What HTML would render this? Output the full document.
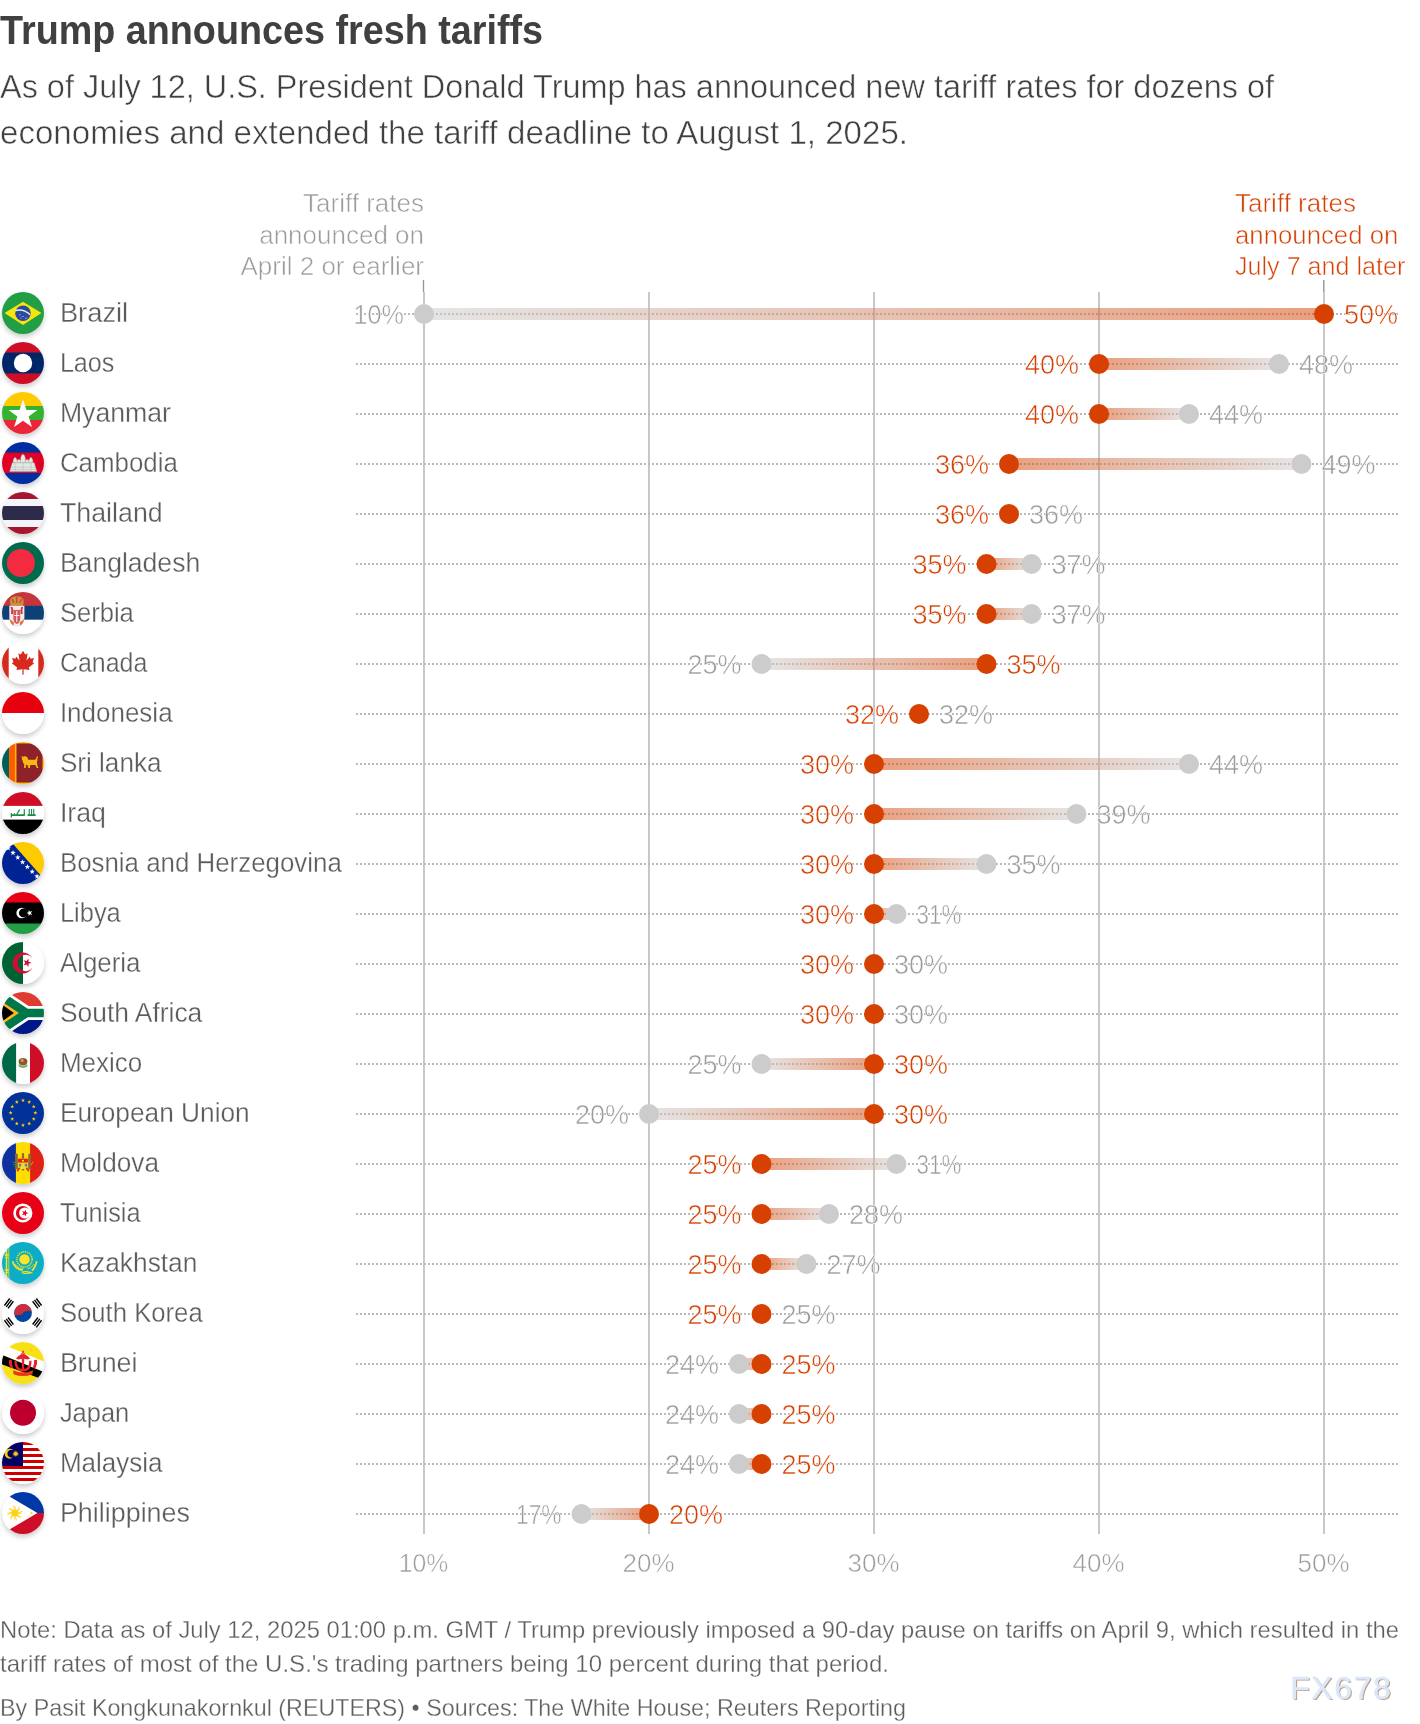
<!DOCTYPE html><html><head><meta charset="utf-8"><style>html,body{margin:0;padding:0;background:#fff;}svg{display:block;will-change:transform;}text{font-family:"Liberation Sans",sans-serif;} .t{stroke:#fff;stroke-width:0.55px;} .tn{stroke:#fff;stroke-width:0.3px;}</style></head><body>
<svg width="1420" height="1724" viewBox="0 0 1420 1724">
<defs>
<linearGradient id="gR" x1="0" x2="1" y1="0" y2="0"><stop offset="0" stop-color="#cccccc"/><stop offset="1" stop-color="#d64000"/></linearGradient>
<linearGradient id="gL" x1="0" x2="1" y1="0" y2="0"><stop offset="0" stop-color="#d64000"/><stop offset="1" stop-color="#cccccc"/></linearGradient>
<filter id="sh" x="-30%" y="-30%" width="160%" height="170%"><feDropShadow dx="0" dy="3" stdDeviation="2.4" flood-color="#000" flood-opacity="0.2"/></filter>
<mask id="cc" maskUnits="userSpaceOnUse" x="-25" y="-25" width="50" height="50"><circle cx="0" cy="0" r="21" fill="#fff"/></mask>
</defs>
<text x="0" y="44" font-size="40" font-weight="bold" fill="#404040" textLength="543" lengthAdjust="spacingAndGlyphs">Trump announces fresh tariffs</text>
<text class="t" x="0" y="98" font-size="34" fill="#404040" textLength="1274" lengthAdjust="spacingAndGlyphs">As of July 12, U.S. President Donald Trump has announced new tariff rates for dozens of</text>
<text class="t" x="0" y="144" font-size="34" fill="#404040" textLength="908" lengthAdjust="spacingAndGlyphs">economies and extended the tariff deadline to August 1, 2025.</text>
<text class="t" x="424" y="212" font-size="26" fill="#9b9b9b" text-anchor="end">Tariff rates</text>
<text class="t" x="424" y="243.7" font-size="26" fill="#9b9b9b" text-anchor="end">announced on</text>
<text class="t" x="424" y="275.4" font-size="26" fill="#9b9b9b" text-anchor="end">April 2 or earlier</text>
<text class="t" x="1235" y="212" font-size="26" fill="#d64000" textLength="120.9" lengthAdjust="spacingAndGlyphs">Tariff rates</text>
<text class="t" x="1235" y="243.7" font-size="26" fill="#d64000" textLength="163.3" lengthAdjust="spacingAndGlyphs">announced on</text>
<text class="t" x="1235" y="275.4" font-size="26" fill="#d64000" textLength="170.4" lengthAdjust="spacingAndGlyphs">July 7 and later</text>
<line x1="423.5" x2="423.5" y1="280" y2="292" stroke="#959595" stroke-width="1.3"/>
<line x1="1323.8" x2="1323.8" y1="280" y2="292" stroke="#9c9c9c" stroke-width="1.5"/>
<line x1="424" x2="424" y1="292" y2="1534" stroke="#c8c8c8" stroke-width="2"/>
<text class="t" x="423.5" y="1572" font-size="26" fill="#9b9b9b" text-anchor="middle" textLength="49.5" lengthAdjust="spacingAndGlyphs">10%</text>
<line x1="649" x2="649" y1="292" y2="1534" stroke="#c8c8c8" stroke-width="2"/>
<text class="t" x="648.5" y="1572" font-size="26" fill="#9b9b9b" text-anchor="middle">20%</text>
<line x1="874" x2="874" y1="292" y2="1534" stroke="#c8c8c8" stroke-width="2"/>
<text class="t" x="873.5" y="1572" font-size="26" fill="#9b9b9b" text-anchor="middle">30%</text>
<line x1="1099" x2="1099" y1="292" y2="1534" stroke="#c8c8c8" stroke-width="2"/>
<text class="t" x="1098.5" y="1572" font-size="26" fill="#9b9b9b" text-anchor="middle">40%</text>
<line x1="1324" x2="1324" y1="292" y2="1534" stroke="#c8c8c8" stroke-width="2"/>
<text class="t" x="1323.5" y="1572" font-size="26" fill="#9b9b9b" text-anchor="middle">50%</text>
<line x1="356" x2="1398" y1="314" y2="314" stroke="#bbbbbb" stroke-width="2" stroke-dasharray="2 2"/>
<rect x="424" y="308" width="900" height="12" fill="url(#gR)" opacity="0.5"/>
<circle cx="424" cy="314" r="10" fill="#cccccc"/>
<circle cx="1324" cy="314" r="10" fill="#d64000"/>
<text class="t" x="404" y="324" font-size="27" fill="#9b9b9b" text-anchor="end" textLength="50.4" lengthAdjust="spacingAndGlyphs">10%</text>
<text class="t" x="1344" y="324" font-size="27" fill="#d64000">50%</text>
<text class="tn" x="59.9" y="322" font-size="27" fill="#5c5c5c" textLength="68.3" lengthAdjust="spacingAndGlyphs">Brazil</text>
<g transform="translate(23,313)" filter="url(#sh)"><g mask="url(#cc)"><rect x="-22" y="-22" width="44" height="44" fill="#229e45"/><polygon points="-18.5,0 0,-11.3 18.5,0 0,12" fill="#f8e509"/><circle cx="0" cy="0.2" r="7.8" fill="#2b49a3"/><path d="M-7.6,-2.4 Q0,-4.6 7.2,1.6" stroke="#e8f0e0" stroke-width="1.4" fill="none"/><circle cx="-3" cy="1.8" r="0.6" fill="#dfe6f5"/><circle cx="0" cy="3.5" r="0.6" fill="#dfe6f5"/><circle cx="3" cy="5.2" r="0.6" fill="#dfe6f5"/><circle cx="-2" cy="5" r="0.5" fill="#dfe6f5"/></g></g>
<line x1="356" x2="1398" y1="364" y2="364" stroke="#bbbbbb" stroke-width="2" stroke-dasharray="2 2"/>
<rect x="1099" y="358" width="180" height="12" fill="url(#gL)" opacity="0.5"/>
<circle cx="1279" cy="364" r="10" fill="#cccccc"/>
<circle cx="1099" cy="364" r="10" fill="#d64000"/>
<text class="t" x="1079" y="374" font-size="27" fill="#d64000" text-anchor="end">40%</text>
<text class="t" x="1299" y="374" font-size="27" fill="#9b9b9b">48%</text>
<text class="tn" x="59.9" y="372" font-size="27" fill="#5c5c5c" textLength="54.5" lengthAdjust="spacingAndGlyphs">Laos</text>
<g transform="translate(23,363)" filter="url(#sh)"><g mask="url(#cc)"><rect x="-22" y="-22" width="44" height="44" fill="#ce1126"/><rect x="-22" y="-10.5" width="44" height="21" fill="#002868"/><circle cx="0" cy="0" r="9.2" fill="#ffffff"/></g></g>
<line x1="356" x2="1398" y1="414" y2="414" stroke="#bbbbbb" stroke-width="2" stroke-dasharray="2 2"/>
<rect x="1099" y="408" width="90" height="12" fill="url(#gL)" opacity="0.5"/>
<circle cx="1189" cy="414" r="10" fill="#cccccc"/>
<circle cx="1099" cy="414" r="10" fill="#d64000"/>
<text class="t" x="1079" y="424" font-size="27" fill="#d64000" text-anchor="end">40%</text>
<text class="t" x="1209" y="424" font-size="27" fill="#9b9b9b">44%</text>
<text class="tn" x="59.9" y="422" font-size="27" fill="#5c5c5c" textLength="111" lengthAdjust="spacingAndGlyphs">Myanmar</text>
<g transform="translate(23,413)" filter="url(#sh)"><g mask="url(#cc)"><rect x="-22" y="-22" width="44" height="44" fill="#fecb00"/><rect x="-22" y="-7" width="44" height="14" fill="#34b233"/><rect x="-22" y="7" width="44" height="15" fill="#ea2839"/><polygon points="0.00,-13.40 3.47,-2.97 14.46,-2.90 5.61,3.62 8.93,14.10 0.00,7.70 -8.93,14.10 -5.61,3.62 -14.46,-2.90 -3.47,-2.97" fill="#ffffff"/></g></g>
<line x1="356" x2="1398" y1="464" y2="464" stroke="#bbbbbb" stroke-width="2" stroke-dasharray="2 2"/>
<rect x="1009" y="458" width="292.5" height="12" fill="url(#gL)" opacity="0.5"/>
<circle cx="1301.5" cy="464" r="10" fill="#cccccc"/>
<circle cx="1009" cy="464" r="10" fill="#d64000"/>
<text class="t" x="989" y="474" font-size="27" fill="#d64000" text-anchor="end">36%</text>
<text class="t" x="1321.5" y="474" font-size="27" fill="#9b9b9b">49%</text>
<text class="tn" x="59.9" y="472" font-size="27" fill="#5c5c5c" textLength="118" lengthAdjust="spacingAndGlyphs">Cambodia</text>
<g transform="translate(23,463)" filter="url(#sh)"><g mask="url(#cc)"><rect x="-22" y="-22" width="44" height="44" fill="#032ea1"/><rect x="-22" y="-10.4" width="44" height="20.4" fill="#e00025"/><g fill="#e4e9e6" stroke="#a8aeab" stroke-width="0.45"><path d="M-13.3,8.6 L13.8,8.6 L11.2,-0.3 L-10.7,-0.3 Z"/><path d="M-6,-0.3 L-6,-2.6 Q-4.1,-4.2 -2.2,-2.6 L-2.2,-0.3 Z M2.2,-0.3 L2.2,-2.6 Q4.1,-4.2 6,-2.6 L6,-0.3 Z"/><path d="M-2.3,-0.3 L-2.3,-5 Q-1.6,-8.4 0,-8.7 Q1.6,-8.4 2.3,-5 L2.3,-0.3 Z"/><path d="M-9.8,-0.3 L-9.8,-2.8 Q-9.1,-5.4 -7.9,-5.7 Q-6.7,-5.4 -6,-2.8 L-6,-0.3 Z"/><path d="M6,-0.3 L6,-2.8 Q6.7,-5.4 7.9,-5.7 Q9.1,-5.4 9.8,-2.8 L9.8,-0.3 Z"/><path d="M-11.8,4.2 H12.3 M-12.6,6.6 H13.1 M-7.9,0 V8.6 M7.9,0 V8.6 M0,0 V8.6" fill="none"/></g></g></g>
<line x1="356" x2="1398" y1="514" y2="514" stroke="#bbbbbb" stroke-width="2" stroke-dasharray="2 2"/>
<circle cx="1009" cy="514" r="10" fill="#d64000"/>
<text class="t" x="989" y="524" font-size="27" fill="#d64000" text-anchor="end">36%</text>
<text class="t" x="1029" y="524" font-size="27" fill="#9b9b9b">36%</text>
<text class="tn" x="59.9" y="522" font-size="27" fill="#5c5c5c" textLength="102.8" lengthAdjust="spacingAndGlyphs">Thailand</text>
<g transform="translate(23,513)" filter="url(#sh)"><g mask="url(#cc)"><rect x="-22" y="-22" width="44" height="44" fill="#a51931"/><rect x="-22" y="-14" width="44" height="28" fill="#f4f5f8"/><rect x="-22" y="-7" width="44" height="14" fill="#2d2a4a"/></g></g>
<line x1="356" x2="1398" y1="564" y2="564" stroke="#bbbbbb" stroke-width="2" stroke-dasharray="2 2"/>
<rect x="986.5" y="558" width="45" height="12" fill="url(#gL)" opacity="0.5"/>
<circle cx="1031.5" cy="564" r="10" fill="#cccccc"/>
<circle cx="986.5" cy="564" r="10" fill="#d64000"/>
<text class="t" x="966.5" y="574" font-size="27" fill="#d64000" text-anchor="end">35%</text>
<text class="t" x="1051.5" y="574" font-size="27" fill="#9b9b9b">37%</text>
<text class="tn" x="59.9" y="572" font-size="27" fill="#5c5c5c" textLength="140.3" lengthAdjust="spacingAndGlyphs">Bangladesh</text>
<g transform="translate(23,563)" filter="url(#sh)"><g mask="url(#cc)"><rect x="-22" y="-22" width="44" height="44" fill="#006a4e"/><circle cx="-2.1" cy="0" r="14" fill="#f42a41"/></g></g>
<line x1="356" x2="1398" y1="614" y2="614" stroke="#bbbbbb" stroke-width="2" stroke-dasharray="2 2"/>
<rect x="986.5" y="608" width="45" height="12" fill="url(#gL)" opacity="0.5"/>
<circle cx="1031.5" cy="614" r="10" fill="#cccccc"/>
<circle cx="986.5" cy="614" r="10" fill="#d64000"/>
<text class="t" x="966.5" y="624" font-size="27" fill="#d64000" text-anchor="end">35%</text>
<text class="t" x="1051.5" y="624" font-size="27" fill="#9b9b9b">37%</text>
<text class="tn" x="59.9" y="622" font-size="27" fill="#5c5c5c" textLength="73.9" lengthAdjust="spacingAndGlyphs">Serbia</text>
<g transform="translate(23,613)" filter="url(#sh)"><g mask="url(#cc)"><rect x="-22" y="-22" width="44" height="44" fill="#c6363c"/><rect x="-22" y="-7.2" width="44" height="15" fill="#0c4076"/><rect x="-22" y="6.7" width="44" height="16" fill="#ffffff"/><g><path d="M-13,-11.5 Q-13.5,-16.5 -6.2,-16.8 Q1,-16.5 0.6,-11.5 L0,-7.2 L-12.4,-7.2 Z" fill="#c8913a"/><path d="M-11,-14 L-9,-10 M-6.2,-16 V-10 M-1.4,-14 L-3.4,-10" stroke="#d23a3a" stroke-width="1.2"/><path d="M-13.7,-7.2 H1.4 V5 Q1.4,13.7 -6.2,13.7 Q-13.7,13.7 -13.7,5 Z" fill="#f1e9ea"/><path d="M-12.5,-6 q1.5,3 0.5,7 h2 q1,-4 -0.5,-7z M0.2,-6 q-1.5,3 -0.5,7 h-2 q-1,-4 0.5,-7z" fill="#d23a3a"/><path d="M-9.6,-3 H-2.8 V5 Q-2.8,10 -6.2,11 Q-9.6,10 -9.6,5 Z" fill="#d9545c"/><path d="M-8.8,2.1 H-3.6 V3.1 H-8.8 Z M-6.7,-2 H-5.7 V9 H-6.7 Z" fill="#ffffff"/><path d="M-13.5,6 q1,5 4,6.5 l0.5,-3 z M1.2,6 q-1,5 -4,6.5 l-0.5,-3 z" fill="#d9753a"/></g></g></g>
<line x1="356" x2="1398" y1="664" y2="664" stroke="#bbbbbb" stroke-width="2" stroke-dasharray="2 2"/>
<rect x="761.5" y="658" width="225" height="12" fill="url(#gR)" opacity="0.5"/>
<circle cx="761.5" cy="664" r="10" fill="#cccccc"/>
<circle cx="986.5" cy="664" r="10" fill="#d64000"/>
<text class="t" x="741.5" y="674" font-size="27" fill="#9b9b9b" text-anchor="end">25%</text>
<text class="t" x="1006.5" y="674" font-size="27" fill="#d64000">35%</text>
<text class="tn" x="59.9" y="672" font-size="27" fill="#5c5c5c" textLength="87.4" lengthAdjust="spacingAndGlyphs">Canada</text>
<g transform="translate(23,663)" filter="url(#sh)"><g mask="url(#cc)"><rect x="-22" y="-22" width="44" height="44" fill="#ffffff"/><rect x="-22" y="-22" width="7.7" height="44" fill="#d52b1e"/><rect x="15.3" y="-22" width="7" height="44" fill="#d52b1e"/><path d="M0,-12.3 L-2.2,-8.4 L-4.6,-9.8 L-3.5,-2.6 L-6.9,-6.4 L-7.5,-4.2 L-10.9,-4.9 L-9.6,-0.7 L-11.2,0.2 L-5.8,4.5 L-6.6,6.9 L-0.6,6.2 L-0.6,11.7 L0.6,11.7 L0.6,6.2 L6.6,6.9 L5.8,4.5 L11.2,0.2 L9.6,-0.7 L10.9,-4.9 L7.5,-4.2 L6.9,-6.4 L3.5,-2.6 L4.6,-9.8 L2.2,-8.4 Z" fill="#d52b1e"/></g></g>
<line x1="356" x2="1398" y1="714" y2="714" stroke="#bbbbbb" stroke-width="2" stroke-dasharray="2 2"/>
<circle cx="919" cy="714" r="10" fill="#d64000"/>
<text class="t" x="899" y="724" font-size="27" fill="#d64000" text-anchor="end">32%</text>
<text class="t" x="939" y="724" font-size="27" fill="#9b9b9b">32%</text>
<text class="tn" x="59.9" y="722" font-size="27" fill="#5c5c5c" textLength="112.7" lengthAdjust="spacingAndGlyphs">Indonesia</text>
<g transform="translate(23,713)" filter="url(#sh)"><g mask="url(#cc)"><rect x="-22" y="-22" width="44" height="44" fill="#ffffff"/><rect x="-22" y="-22" width="44" height="22" fill="#e70011"/></g></g>
<line x1="356" x2="1398" y1="764" y2="764" stroke="#bbbbbb" stroke-width="2" stroke-dasharray="2 2"/>
<rect x="874" y="758" width="315" height="12" fill="url(#gL)" opacity="0.5"/>
<circle cx="1189" cy="764" r="10" fill="#cccccc"/>
<circle cx="874" cy="764" r="10" fill="#d64000"/>
<text class="t" x="854" y="774" font-size="27" fill="#d64000" text-anchor="end">30%</text>
<text class="t" x="1209" y="774" font-size="27" fill="#9b9b9b">44%</text>
<text class="tn" x="59.9" y="772" font-size="27" fill="#5c5c5c" textLength="101.6" lengthAdjust="spacingAndGlyphs">Sri lanka</text>
<g transform="translate(23,763)" filter="url(#sh)"><g mask="url(#cc)"><rect x="-22" y="-22" width="44" height="44" fill="#ffb700"/><rect x="-21.2" y="-22" width="7.3" height="44" fill="#005f56"/><rect x="-13.9" y="-22" width="5.8" height="44" fill="#ff5b00"/><path d="M-6.5,-19.6 H19.5 V19.6 H-6.5 Z" fill="#8d2029"/><g fill="#f7b718"><path d="M-0.5,-5.5 q1,-1.5 3,-1.2 q2,0.3 2.2,2 l0.5,1.5 h6 q1.5,0 2,-1.5 q0.3,-1.8 1.2,-2.2 l0.6,0.8 q-0.8,0.8 -0.6,2 q0.3,1.5 -0.5,3 l0.5,3.5 l1,2.6 h-1.8 l-0.9,-2.4 l-1,-0.6 h-4 l-0.8,0.8 l0.2,2.2 h-1.8 l-0.3,-2.6 q-1.2,0 -1.8,-1 l-0.6,3.6 h-1.6 l0.3,-3.8 q-1.8,-1.5 -1.5,-3.5 q-1,-0.5 -0.6,-2 z"/><path d="M-1.5,-6.8 l1,-0.2 l0.6,3.8 l-1,0.2 z"/></g></g></g>
<line x1="356" x2="1398" y1="814" y2="814" stroke="#bbbbbb" stroke-width="2" stroke-dasharray="2 2"/>
<rect x="874" y="808" width="202.5" height="12" fill="url(#gL)" opacity="0.5"/>
<circle cx="1076.5" cy="814" r="10" fill="#cccccc"/>
<circle cx="874" cy="814" r="10" fill="#d64000"/>
<text class="t" x="854" y="824" font-size="27" fill="#d64000" text-anchor="end">30%</text>
<text class="t" x="1096.5" y="824" font-size="27" fill="#9b9b9b">39%</text>
<text class="tn" x="59.9" y="822" font-size="27" fill="#5c5c5c" textLength="46.1" lengthAdjust="spacingAndGlyphs">Iraq</text>
<g transform="translate(23,813)" filter="url(#sh)"><g mask="url(#cc)"><rect x="-22" y="-22" width="44" height="44" fill="#ce1126"/><rect x="-22" y="-7.1" width="44" height="14.7" fill="#ffffff"/><rect x="-22" y="6.6" width="44" height="16" fill="#000000"/><g fill="#1a8a4a"><path d="M-12,1.2 H1.9 V2.9 H-12 Z M0.7,-3.8 H1.9 V2.9 H0.7 Z M-12.3,0 H-11 V4.6 H-12.3 Z"/><path d="M-7,1.4 L-3.9,-3.7 L-2.8,-3.1 L-5.6,1.6 Z"/><path d="M-9.5,1.2 q0.5,-1.2 1.4,-1.4 v1.4 z"/><path d="M4.6,1.2 H12.7 V2.9 H4.6 Z M5.7,-3.9 H6.8 V2 H5.7 Z M8,-3.9 H9.1 V2 H8 Z M10.2,-4.1 H11.3 V2 H10.2 Z"/></g></g></g>
<line x1="356" x2="1398" y1="864" y2="864" stroke="#bbbbbb" stroke-width="2" stroke-dasharray="2 2"/>
<rect x="874" y="858" width="112.5" height="12" fill="url(#gL)" opacity="0.5"/>
<circle cx="986.5" cy="864" r="10" fill="#cccccc"/>
<circle cx="874" cy="864" r="10" fill="#d64000"/>
<text class="t" x="854" y="874" font-size="27" fill="#d64000" text-anchor="end">30%</text>
<text class="t" x="1006.5" y="874" font-size="27" fill="#9b9b9b">35%</text>
<text class="tn" x="59.9" y="872" font-size="27" fill="#5c5c5c" textLength="281.9" lengthAdjust="spacingAndGlyphs">Bosnia and Herzegovina</text>
<g transform="translate(23,863)" filter="url(#sh)"><g mask="url(#cc)"><rect x="-22" y="-22" width="44" height="44" fill="#002395"/><polygon points="-12.6,-22 22,-22 22,17.3" fill="#fecb00"/><polygon points="-14.80,-17.80 -14.12,-15.83 -12.04,-15.80 -13.71,-14.54 -13.10,-12.55 -14.80,-13.75 -16.50,-12.55 -15.89,-14.54 -17.56,-15.80 -15.48,-15.83" fill="#ffffff"/><polygon points="-10.00,-13.10 -9.32,-11.13 -7.24,-11.10 -8.91,-9.84 -8.30,-7.85 -10.00,-9.05 -11.70,-7.85 -11.09,-9.84 -12.76,-11.10 -10.68,-11.13" fill="#ffffff"/><polygon points="-5.20,-8.40 -4.52,-6.43 -2.44,-6.40 -4.11,-5.14 -3.50,-3.15 -5.20,-4.35 -6.90,-3.15 -6.29,-5.14 -7.96,-6.40 -5.88,-6.43" fill="#ffffff"/><polygon points="-0.40,-3.70 0.28,-1.73 2.36,-1.70 0.69,-0.44 1.30,1.55 -0.40,0.35 -2.10,1.55 -1.49,-0.44 -3.16,-1.70 -1.08,-1.73" fill="#ffffff"/><polygon points="4.40,1.00 5.08,2.97 7.16,3.00 5.49,4.26 6.10,6.25 4.40,5.05 2.70,6.25 3.31,4.26 1.64,3.00 3.72,2.97" fill="#ffffff"/><polygon points="9.20,5.70 9.88,7.67 11.96,7.70 10.29,8.96 10.90,10.95 9.20,9.75 7.50,10.95 8.11,8.96 6.44,7.70 8.52,7.67" fill="#ffffff"/><polygon points="14.00,10.40 14.68,12.37 16.76,12.40 15.09,13.66 15.70,15.65 14.00,14.45 12.30,15.65 12.91,13.66 11.24,12.40 13.32,12.37" fill="#ffffff"/></g></g>
<line x1="356" x2="1398" y1="914" y2="914" stroke="#bbbbbb" stroke-width="2" stroke-dasharray="2 2"/>
<rect x="874" y="908" width="22.5" height="12" fill="url(#gL)" opacity="0.5"/>
<circle cx="896.5" cy="914" r="10" fill="#cccccc"/>
<circle cx="874" cy="914" r="10" fill="#d64000"/>
<text class="t" x="854" y="924" font-size="27" fill="#d64000" text-anchor="end">30%</text>
<text class="t" x="916.5" y="924" font-size="27" fill="#9b9b9b" textLength="44.8" lengthAdjust="spacingAndGlyphs">31%</text>
<text class="tn" x="59.9" y="922" font-size="27" fill="#5c5c5c" textLength="60.9" lengthAdjust="spacingAndGlyphs">Libya</text>
<g transform="translate(23,913)" filter="url(#sh)"><g mask="url(#cc)"><rect x="-22" y="-22" width="44" height="44" fill="#e70013"/><rect x="-22" y="-10.5" width="44" height="22" fill="#000000"/><rect x="-22" y="10.5" width="44" height="12" fill="#239e46"/><circle cx="-1.3" cy="0" r="5.3" fill="#ffffff"/><circle cx="0.3" cy="0" r="4.4" fill="#000000"/><polygon points="3.40,0.00 5.55,-0.76 5.61,-3.04 7.00,-1.24 9.19,-1.88 7.90,-0.00 9.19,1.88 7.00,1.24 5.61,3.04 5.55,0.76" fill="#ffffff"/></g></g>
<line x1="356" x2="1398" y1="964" y2="964" stroke="#bbbbbb" stroke-width="2" stroke-dasharray="2 2"/>
<circle cx="874" cy="964" r="10" fill="#d64000"/>
<text class="t" x="854" y="974" font-size="27" fill="#d64000" text-anchor="end">30%</text>
<text class="t" x="894" y="974" font-size="27" fill="#9b9b9b">30%</text>
<text class="tn" x="59.9" y="972" font-size="27" fill="#5c5c5c" textLength="80.6" lengthAdjust="spacingAndGlyphs">Algeria</text>
<g transform="translate(23,963)" filter="url(#sh)"><g mask="url(#cc)"><rect x="-22" y="-22" width="44" height="44" fill="#ffffff"/><rect x="-22" y="-22" width="22" height="44" fill="#006233"/><path d="M9.29,-4.88 A10.45,10.45 0 1 0 9.29,4.88 A8.2,8.2 0 1 1 9.29,-4.88 Z" fill="#d21034"/><polygon points="8.60,-0.20 5.56,0.86 5.49,4.08 3.54,1.51 0.46,2.45 2.30,-0.20 0.46,-2.85 3.54,-1.91 5.49,-4.48 5.56,-1.26" fill="#d21034"/></g></g>
<line x1="356" x2="1398" y1="1014" y2="1014" stroke="#bbbbbb" stroke-width="2" stroke-dasharray="2 2"/>
<circle cx="874" cy="1014" r="10" fill="#d64000"/>
<text class="t" x="854" y="1024" font-size="27" fill="#d64000" text-anchor="end">30%</text>
<text class="t" x="894" y="1024" font-size="27" fill="#9b9b9b">30%</text>
<text class="tn" x="59.9" y="1022" font-size="27" fill="#5c5c5c" textLength="142.4" lengthAdjust="spacingAndGlyphs">South Africa</text>
<g transform="translate(23,1013)" filter="url(#sh)"><g mask="url(#cc)"><g transform="translate(-28,-21) scale(7)"><rect x="0" y="0" width="9" height="3" fill="#e03c31"/><rect x="0" y="3" width="9" height="3" fill="#001489"/><path d="M0,0 L4.5,3 L0,6 M4.5,3 H9" stroke="#ffffff" stroke-width="2" fill="none"/><path d="M0,0 L4.5,3 L0,6 Z" fill="#ffb81c"/><path d="M0,0 L4.5,3 L0,6 M4.5,3 H9" stroke="#007749" stroke-width="1.2" fill="none"/><path d="M0,1.08 L2.7,3 L0,4.92 Z" fill="#000000"/></g></g></g>
<line x1="356" x2="1398" y1="1064" y2="1064" stroke="#bbbbbb" stroke-width="2" stroke-dasharray="2 2"/>
<rect x="761.5" y="1058" width="112.5" height="12" fill="url(#gR)" opacity="0.5"/>
<circle cx="761.5" cy="1064" r="10" fill="#cccccc"/>
<circle cx="874" cy="1064" r="10" fill="#d64000"/>
<text class="t" x="741.5" y="1074" font-size="27" fill="#9b9b9b" text-anchor="end">25%</text>
<text class="t" x="894" y="1074" font-size="27" fill="#d64000">30%</text>
<text class="tn" x="59.9" y="1072" font-size="27" fill="#5c5c5c" textLength="82.4" lengthAdjust="spacingAndGlyphs">Mexico</text>
<g transform="translate(23,1063)" filter="url(#sh)"><g mask="url(#cc)"><rect x="-22" y="-22" width="44" height="44" fill="#ffffff"/><rect x="-22" y="-22" width="15.1" height="44" fill="#006847"/><rect x="7" y="-22" width="15" height="44" fill="#ce1126"/><ellipse cx="0" cy="1.9" rx="4.6" ry="2.6" fill="#b9c7b0"/><ellipse cx="0" cy="-1.4" rx="4.4" ry="3.6" fill="#8c5a2b"/><circle cx="-0.8" cy="-2.6" r="1.6" fill="#c49a5a"/><path d="M-4.2,2.6 Q0,5.8 4.2,2.6" stroke="#5a9a4a" stroke-width="1.1" fill="none"/></g></g>
<line x1="356" x2="1398" y1="1114" y2="1114" stroke="#bbbbbb" stroke-width="2" stroke-dasharray="2 2"/>
<rect x="649" y="1108" width="225" height="12" fill="url(#gR)" opacity="0.5"/>
<circle cx="649" cy="1114" r="10" fill="#cccccc"/>
<circle cx="874" cy="1114" r="10" fill="#d64000"/>
<text class="t" x="629" y="1124" font-size="27" fill="#9b9b9b" text-anchor="end">20%</text>
<text class="t" x="894" y="1124" font-size="27" fill="#d64000">30%</text>
<text class="tn" x="59.9" y="1122" font-size="27" fill="#5c5c5c" textLength="189.8" lengthAdjust="spacingAndGlyphs">European Union</text>
<g transform="translate(23,1113)" filter="url(#sh)"><g mask="url(#cc)"><rect x="-22" y="-22" width="44" height="44" fill="#003399"/><polygon points="0.00,-14.70 0.50,-13.29 2.00,-13.25 0.81,-12.34 1.23,-10.90 0.00,-11.75 -1.23,-10.90 -0.81,-12.34 -2.00,-13.25 -0.50,-13.29" fill="#ffcc00"/><polygon points="6.20,-13.04 6.70,-11.63 8.20,-11.59 7.01,-10.68 7.43,-9.24 6.20,-10.09 4.97,-9.24 5.39,-10.68 4.20,-11.59 5.70,-11.63" fill="#ffcc00"/><polygon points="10.74,-8.50 11.24,-7.09 12.74,-7.05 11.55,-6.14 11.97,-4.70 10.74,-5.55 9.50,-4.70 9.93,-6.14 8.74,-7.05 10.24,-7.09" fill="#ffcc00"/><polygon points="12.40,-2.30 12.90,-0.89 14.40,-0.85 13.21,0.06 13.63,1.50 12.40,0.65 11.17,1.50 11.59,0.06 10.40,-0.85 11.90,-0.89" fill="#ffcc00"/><polygon points="10.74,3.90 11.24,5.31 12.74,5.35 11.55,6.26 11.97,7.70 10.74,6.85 9.50,7.70 9.93,6.26 8.74,5.35 10.24,5.31" fill="#ffcc00"/><polygon points="6.20,8.44 6.70,9.85 8.20,9.89 7.01,10.80 7.43,12.24 6.20,11.39 4.97,12.24 5.39,10.80 4.20,9.89 5.70,9.85" fill="#ffcc00"/><polygon points="0.00,10.10 0.50,11.51 2.00,11.55 0.81,12.46 1.23,13.90 0.00,13.05 -1.23,13.90 -0.81,12.46 -2.00,11.55 -0.50,11.51" fill="#ffcc00"/><polygon points="-6.20,8.44 -5.70,9.85 -4.20,9.89 -5.39,10.80 -4.97,12.24 -6.20,11.39 -7.43,12.24 -7.01,10.80 -8.20,9.89 -6.70,9.85" fill="#ffcc00"/><polygon points="-10.74,3.90 -10.24,5.31 -8.74,5.35 -9.93,6.26 -9.50,7.70 -10.74,6.85 -11.97,7.70 -11.55,6.26 -12.74,5.35 -11.24,5.31" fill="#ffcc00"/><polygon points="-12.40,-2.30 -11.90,-0.89 -10.40,-0.85 -11.59,0.06 -11.17,1.50 -12.40,0.65 -13.63,1.50 -13.21,0.06 -14.40,-0.85 -12.90,-0.89" fill="#ffcc00"/><polygon points="-10.74,-8.50 -10.24,-7.09 -8.74,-7.05 -9.93,-6.14 -9.50,-4.70 -10.74,-5.55 -11.97,-4.70 -11.55,-6.14 -12.74,-7.05 -11.24,-7.09" fill="#ffcc00"/><polygon points="-6.20,-13.04 -5.70,-11.63 -4.20,-11.59 -5.39,-10.68 -4.97,-9.24 -6.20,-10.09 -7.43,-9.24 -7.01,-10.68 -8.20,-11.59 -6.70,-11.63" fill="#ffcc00"/></g></g>
<line x1="356" x2="1398" y1="1164" y2="1164" stroke="#bbbbbb" stroke-width="2" stroke-dasharray="2 2"/>
<rect x="761.5" y="1158" width="135" height="12" fill="url(#gL)" opacity="0.5"/>
<circle cx="896.5" cy="1164" r="10" fill="#cccccc"/>
<circle cx="761.5" cy="1164" r="10" fill="#d64000"/>
<text class="t" x="741.5" y="1174" font-size="27" fill="#d64000" text-anchor="end">25%</text>
<text class="t" x="916.5" y="1174" font-size="27" fill="#9b9b9b" textLength="44.8" lengthAdjust="spacingAndGlyphs">31%</text>
<text class="tn" x="59.9" y="1172" font-size="27" fill="#5c5c5c" textLength="99.1" lengthAdjust="spacingAndGlyphs">Moldova</text>
<g transform="translate(23,1163)" filter="url(#sh)"><g mask="url(#cc)"><rect x="-22" y="-22" width="44" height="44" fill="#0a32a0"/><rect x="-7.1" y="-22" width="15.2" height="44" fill="#ffdd00"/><rect x="7.1" y="-22" width="15" height="44" fill="#e02012"/><path d="M-8,-9 Q-6.5,-10 -5.2,-8.5 L-5.2,6.2 L-7.8,6.2 Z M8,-9 Q6.5,-10 5.2,-8.5 L5.2,6.2 L7.8,6.2 Z" fill="#8a6a30"/><path d="M-1,-9.7 Q0,-10.5 1,-9.7 L1.2,-4.5 L-1.2,-4.5 Z" fill="#8a6a30"/><path d="M-4.9,-4.3 H4.9 V-0.3 H-4.9 Z" fill="#e62010"/><circle cx="0" cy="-2.3" r="1" fill="#ffee00"/><path d="M-4.5,-0.3 H4.5 V2.5 Q4.5,5.5 0,6.8 Q-4.5,5.5 -4.5,2.5 Z" fill="#e8e020"/><path d="M-4.2,0.8 h2.4 v2.8 h-2.4z M1.8,0.8 h2.4 v2.8 h-2.4z" fill="#6a70d8"/><path d="M-5.8,8.2 L-3.4,4.8 M5.8,8.2 L3.4,4.8" stroke="#e62010" stroke-width="1.6"/><path d="M-1.6,6 Q0,9.5 1.6,6 Z" fill="#8a6a30"/><path d="M-10.5,-1 q1.5,0.5 2.5,0.3 M-9.8,1.2 q1.2,0.6 2.2,0.2 M-9,3.6 q1,0.5 2,0.2" stroke="#2a8a2a" stroke-width="1.1" fill="none"/><path d="M10,-1.2 q-1,2 -2.2,3.2" stroke="#e8a020" stroke-width="1" fill="none"/></g></g>
<line x1="356" x2="1398" y1="1214" y2="1214" stroke="#bbbbbb" stroke-width="2" stroke-dasharray="2 2"/>
<rect x="761.5" y="1208" width="67.5" height="12" fill="url(#gL)" opacity="0.5"/>
<circle cx="829" cy="1214" r="10" fill="#cccccc"/>
<circle cx="761.5" cy="1214" r="10" fill="#d64000"/>
<text class="t" x="741.5" y="1224" font-size="27" fill="#d64000" text-anchor="end">25%</text>
<text class="t" x="849" y="1224" font-size="27" fill="#9b9b9b">28%</text>
<text class="tn" x="59.9" y="1222" font-size="27" fill="#5c5c5c" textLength="80.6" lengthAdjust="spacingAndGlyphs">Tunisia</text>
<g transform="translate(23,1213)" filter="url(#sh)"><g mask="url(#cc)"><rect x="-22" y="-22" width="44" height="44" fill="#e70013"/><circle cx="-0.15" cy="0" r="9.6" fill="#ffffff"/><circle cx="-0.15" cy="0" r="6.95" fill="#e70013"/><circle cx="1.75" cy="0" r="5.6" fill="#ffffff"/><polygon points="5.50,0.10 3.07,0.95 3.01,3.52 1.45,1.48 -1.01,2.22 0.45,0.10 -1.01,-2.02 1.45,-1.28 3.01,-3.32 3.07,-0.75" fill="#e70013"/></g></g>
<line x1="356" x2="1398" y1="1264" y2="1264" stroke="#bbbbbb" stroke-width="2" stroke-dasharray="2 2"/>
<rect x="761.5" y="1258" width="45" height="12" fill="url(#gL)" opacity="0.5"/>
<circle cx="806.5" cy="1264" r="10" fill="#cccccc"/>
<circle cx="761.5" cy="1264" r="10" fill="#d64000"/>
<text class="t" x="741.5" y="1274" font-size="27" fill="#d64000" text-anchor="end">25%</text>
<text class="t" x="826.5" y="1274" font-size="27" fill="#9b9b9b">27%</text>
<text class="tn" x="59.9" y="1272" font-size="27" fill="#5c5c5c" textLength="137.5" lengthAdjust="spacingAndGlyphs">Kazakhstan</text>
<g transform="translate(23,1263)" filter="url(#sh)"><g mask="url(#cc)"><rect x="-22" y="-22" width="44" height="44" fill="#08adc8"/><g fill="none" stroke="#f5e31c"><path d="M-14.2,-17 V17" stroke-width="0.9" stroke="#c8e03a"/><path d="M-16.5,-14 V14" stroke-width="1.6"/><path d="M-18.3,-8 q2,-2 4,0 q-2,2 -4,0 M-18.3,7 q2,-2 4,0 q-2,2 -4,0 M-18.3,-5 q2,-2 4,0 M-18.3,10 q2,-2 4,0" stroke-width="0.9"/><circle cx="1.5" cy="-3.6" r="7.6" stroke-width="1.5" stroke-dasharray="1.3 0.8"/><path d="M-10.5,-1.8 Q-8,6.5 -0.3,7.2 M13.8,-1.8 Q11.5,6 8.8,7.6" stroke-width="1.8"/><path d="M-8,1.5 Q-4,6 0.5,5.6 M11.2,1.2 Q8,5.5 4.5,5.8" stroke-width="0.9"/><path d="M-1.5,9.2 Q3,7.8 8.5,9.8 Q4,11 -0.5,10.2" stroke-width="1.1"/></g><circle cx="1.5" cy="-3.6" r="5.2" fill="#fbe626"/></g></g>
<line x1="356" x2="1398" y1="1314" y2="1314" stroke="#bbbbbb" stroke-width="2" stroke-dasharray="2 2"/>
<circle cx="761.5" cy="1314" r="10" fill="#d64000"/>
<text class="t" x="741.5" y="1324" font-size="27" fill="#d64000" text-anchor="end">25%</text>
<text class="t" x="781.5" y="1324" font-size="27" fill="#9b9b9b">25%</text>
<text class="tn" x="59.9" y="1322" font-size="27" fill="#5c5c5c" textLength="142.8" lengthAdjust="spacingAndGlyphs">South Korea</text>
<g transform="translate(23,1313)" filter="url(#sh)"><g mask="url(#cc)"><rect x="-22" y="-22" width="44" height="44" fill="#ffffff"/><g transform="rotate(-4)"><circle r="8.9" fill="#0047a0"/><path d="M-8.9,0 A8.9,8.9 0 0 1 8.9,0 A4.45,1.8 0 0 0 0,0 A4.45,1.8 0 0 1 -8.9,0 Z" fill="#cd2e3a"/></g><g transform="translate(-14.1,-9.6) rotate(-53)" fill="#000"><rect x="-4.4" y="-3" width="8.8" height="1.4"/><rect x="-4.4" y="-0.7" width="8.8" height="1.4"/><rect x="-4.4" y="1.6" width="8.8" height="1.4"/></g><g transform="translate(14.1,-9.6) rotate(53)" fill="#000"><rect x="-4.4" y="-3" width="8.8" height="1.4"/><rect x="-4.4" y="-0.7" width="8.8" height="1.4"/><rect x="-4.4" y="1.6" width="8.8" height="1.4"/></g><g transform="translate(-14.1,9.4) rotate(53)" fill="#000"><rect x="-4.4" y="-3" width="8.8" height="1.4"/><rect x="-4.4" y="-0.7" width="8.8" height="1.4"/><rect x="-4.4" y="1.6" width="8.8" height="1.4"/></g><g transform="translate(14.1,9.4) rotate(-53)" fill="#000"><rect x="-4.4" y="-3" width="8.8" height="1.4"/><rect x="-4.4" y="-0.7" width="8.8" height="1.4"/><rect x="-4.4" y="1.6" width="8.8" height="1.4"/></g></g></g>
<line x1="356" x2="1398" y1="1364" y2="1364" stroke="#bbbbbb" stroke-width="2" stroke-dasharray="2 2"/>
<rect x="739" y="1358" width="22.5" height="12" fill="url(#gR)" opacity="0.5"/>
<circle cx="739" cy="1364" r="10" fill="#cccccc"/>
<circle cx="761.5" cy="1364" r="10" fill="#d64000"/>
<text class="t" x="719" y="1374" font-size="27" fill="#9b9b9b" text-anchor="end">24%</text>
<text class="t" x="781.5" y="1374" font-size="27" fill="#d64000">25%</text>
<text class="tn" x="59.9" y="1372" font-size="27" fill="#5c5c5c" textLength="77.6" lengthAdjust="spacingAndGlyphs">Brunei</text>
<g transform="translate(23,1363)" filter="url(#sh)"><g mask="url(#cc)"><rect x="-22" y="-22" width="44" height="44" fill="#f7e017"/><polygon points="-22,-19.2 22,-1.1 22,9.6 -22,-8.6" fill="#ffffff"/><polygon points="-22,-8.6 22,9.6 22,17.2 -22,0.9" fill="#000000"/><g fill="#e8202a"><rect x="-0.7" y="-12.3" width="1.5" height="3"/><path d="M-2.2,-10 h4.4 v2.2 h-4.4z" fill="#f06a78"/><path d="M-7,-4.3 Q-4,-8.8 0,-8.8 Q4,-8.8 7,-4.3 L4.2,-3.4 Q0,-5.2 -4.2,-3.4 Z"/><rect x="-1.2" y="-4.5" width="2.4" height="10.5"/><path d="M-8.6,-2.3 Q-8.8,8.3 0,8.6 Q8.8,8.3 8.6,-2.3 L6.4,-2.3 Q6.2,5.8 0,6 Q-6.2,5.8 -6.4,-2.3 Z"/><path d="M-14,-3.2 q-0.8,4.5 1.6,8.6 l2.6,-0.8 q-1.8,-3.4 -1.2,-7.4 z M14,-3.2 q0.8,4.5 -1.6,8.6 l-2.6,-0.8 q1.8,-3.4 1.2,-7.4 z"/><path d="M-10,7.2 Q0,12 10,7.2 L9.4,11.2 Q0,15 -9.4,11.2 Z" fill="#e6381c"/></g></g></g>
<line x1="356" x2="1398" y1="1414" y2="1414" stroke="#bbbbbb" stroke-width="2" stroke-dasharray="2 2"/>
<rect x="739" y="1408" width="22.5" height="12" fill="url(#gR)" opacity="0.5"/>
<circle cx="739" cy="1414" r="10" fill="#cccccc"/>
<circle cx="761.5" cy="1414" r="10" fill="#d64000"/>
<text class="t" x="719" y="1424" font-size="27" fill="#9b9b9b" text-anchor="end">24%</text>
<text class="t" x="781.5" y="1424" font-size="27" fill="#d64000">25%</text>
<text class="tn" x="59.9" y="1422" font-size="27" fill="#5c5c5c" textLength="69.4" lengthAdjust="spacingAndGlyphs">Japan</text>
<g transform="translate(23,1413)" filter="url(#sh)"><g mask="url(#cc)"><rect x="-22" y="-22" width="44" height="44" fill="#ffffff"/><circle cx="0" cy="-0.2" r="13" fill="#bc002d"/></g></g>
<line x1="356" x2="1398" y1="1464" y2="1464" stroke="#bbbbbb" stroke-width="2" stroke-dasharray="2 2"/>
<rect x="739" y="1458" width="22.5" height="12" fill="url(#gR)" opacity="0.5"/>
<circle cx="739" cy="1464" r="10" fill="#cccccc"/>
<circle cx="761.5" cy="1464" r="10" fill="#d64000"/>
<text class="t" x="719" y="1474" font-size="27" fill="#9b9b9b" text-anchor="end">24%</text>
<text class="t" x="781.5" y="1474" font-size="27" fill="#d64000">25%</text>
<text class="tn" x="59.9" y="1472" font-size="27" fill="#5c5c5c" textLength="102.7" lengthAdjust="spacingAndGlyphs">Malaysia</text>
<g transform="translate(23,1463)" filter="url(#sh)"><g mask="url(#cc)"><rect x="-22" y="-22" width="44" height="44" fill="#ffffff"/><rect x="-22" y="-21" width="44" height="3" fill="#cc0001"/><rect x="-22" y="-15" width="44" height="3" fill="#cc0001"/><rect x="-22" y="-9" width="44" height="3" fill="#cc0001"/><rect x="-22" y="-3" width="44" height="3" fill="#cc0001"/><rect x="-22" y="3" width="44" height="3" fill="#cc0001"/><rect x="-22" y="9" width="44" height="3" fill="#cc0001"/><rect x="-22" y="15" width="44" height="3" fill="#cc0001"/><rect x="-22" y="-22" width="22" height="25" fill="#010066"/><g transform="translate(0,-9.3)"><path d="M-9.80,-3.57 A5,5 0 1 0 -9.80,3.57 A4,4 0 1 1 -9.80,-3.57 Z" fill="#ffcc00"/></g><polygon points="-7.30,-12.90 -6.94,-10.86 -5.74,-12.54 -6.30,-10.55 -4.49,-11.54 -5.86,-9.99 -3.79,-10.10 -5.70,-9.30 -3.79,-8.50 -5.86,-8.61 -4.49,-7.06 -6.30,-8.05 -5.74,-6.06 -6.94,-7.74 -7.30,-5.70 -7.66,-7.74 -8.86,-6.06 -8.30,-8.05 -10.11,-7.06 -8.74,-8.61 -10.81,-8.50 -8.90,-9.30 -10.81,-10.10 -8.74,-9.99 -10.11,-11.54 -8.30,-10.55 -8.86,-12.54 -7.66,-10.86" fill="#ffcc00"/></g></g>
<line x1="356" x2="1398" y1="1514" y2="1514" stroke="#bbbbbb" stroke-width="2" stroke-dasharray="2 2"/>
<rect x="581.5" y="1508" width="67.5" height="12" fill="url(#gR)" opacity="0.5"/>
<circle cx="581.5" cy="1514" r="10" fill="#cccccc"/>
<circle cx="649" cy="1514" r="10" fill="#d64000"/>
<text class="t" x="561.5" y="1524" font-size="27" fill="#9b9b9b" text-anchor="end" textLength="45.4" lengthAdjust="spacingAndGlyphs">17%</text>
<text class="t" x="669" y="1524" font-size="27" fill="#d64000">20%</text>
<text class="tn" x="59.9" y="1522" font-size="27" fill="#5c5c5c" textLength="130.1" lengthAdjust="spacingAndGlyphs">Philippines</text>
<g transform="translate(23,1513)" filter="url(#sh)"><g mask="url(#cc)"><rect x="-22" y="-22" width="44" height="44" fill="#0038a8"/><rect x="-22" y="0" width="44" height="22" fill="#ce1126"/><polygon points="-22,-21.5 14.4,0 -22,21.5" fill="#ffffff"/><g fill="#fcd116"><circle cx="-8" cy="0" r="3.6" fill="#fcd116"/><g transform="translate(-8,0) rotate(0)"><path d="M-0.9,-3.5 L0,-8 L0.9,-3.5 Z"/><path d="M-0.4,-3.6 L-2.2,-7.3 L-1.1,-7.6 Z" opacity="0.8"/></g><g transform="translate(-8,0) rotate(45)"><path d="M-0.9,-3.5 L0,-8 L0.9,-3.5 Z"/><path d="M-0.4,-3.6 L-2.2,-7.3 L-1.1,-7.6 Z" opacity="0.8"/></g><g transform="translate(-8,0) rotate(90)"><path d="M-0.9,-3.5 L0,-8 L0.9,-3.5 Z"/><path d="M-0.4,-3.6 L-2.2,-7.3 L-1.1,-7.6 Z" opacity="0.8"/></g><g transform="translate(-8,0) rotate(135)"><path d="M-0.9,-3.5 L0,-8 L0.9,-3.5 Z"/><path d="M-0.4,-3.6 L-2.2,-7.3 L-1.1,-7.6 Z" opacity="0.8"/></g><g transform="translate(-8,0) rotate(180)"><path d="M-0.9,-3.5 L0,-8 L0.9,-3.5 Z"/><path d="M-0.4,-3.6 L-2.2,-7.3 L-1.1,-7.6 Z" opacity="0.8"/></g><g transform="translate(-8,0) rotate(225)"><path d="M-0.9,-3.5 L0,-8 L0.9,-3.5 Z"/><path d="M-0.4,-3.6 L-2.2,-7.3 L-1.1,-7.6 Z" opacity="0.8"/></g><g transform="translate(-8,0) rotate(270)"><path d="M-0.9,-3.5 L0,-8 L0.9,-3.5 Z"/><path d="M-0.4,-3.6 L-2.2,-7.3 L-1.1,-7.6 Z" opacity="0.8"/></g><g transform="translate(-8,0) rotate(315)"><path d="M-0.9,-3.5 L0,-8 L0.9,-3.5 Z"/><path d="M-0.4,-3.6 L-2.2,-7.3 L-1.1,-7.6 Z" opacity="0.8"/></g></g><polygon points="8.50,-1.80 8.94,-0.61 10.21,-0.56 9.21,0.23 9.56,1.46 8.50,0.75 7.44,1.46 7.79,0.23 6.79,-0.56 8.06,-0.61" fill="#fcd116"/><polygon points="-18.50,-16.30 -18.06,-15.11 -16.79,-15.06 -17.79,-14.27 -17.44,-13.04 -18.50,-13.75 -19.56,-13.04 -19.21,-14.27 -20.21,-15.06 -18.94,-15.11" fill="#fcd116"/><polygon points="-18.50,12.70 -18.06,13.89 -16.79,13.94 -17.79,14.73 -17.44,15.96 -18.50,15.25 -19.56,15.96 -19.21,14.73 -20.21,13.94 -18.94,13.89" fill="#fcd116"/></g></g>
<text class="tn" x="0" y="1638" font-size="24" fill="#5e5e5e" textLength="1399" lengthAdjust="spacingAndGlyphs">Note: Data as of July 12, 2025 01:00 p.m. GMT / Trump previously imposed a 90-day pause on tariffs on April 9, which resulted in the</text>
<text class="tn" x="0" y="1672" font-size="24" fill="#5e5e5e" textLength="889" lengthAdjust="spacingAndGlyphs">tariff rates of most of the U.S.'s trading partners being 10 percent during that period.</text>
<text class="tn" x="0" y="1716" font-size="24" fill="#5e5e5e" textLength="906" lengthAdjust="spacingAndGlyphs">By Pasit Kongkunakornkul (REUTERS) • Sources: The White House; Reuters Reporting</text>
<filter id="wb" x="-10%" y="-30%" width="120%" height="160%"><feGaussianBlur stdDeviation="0.7"/></filter>
<text x="1291.4" y="1700.3" font-size="32" fill="#b89a7e" letter-spacing="1.6" filter="url(#wb)">FX678</text>
<text x="1290.2" y="1699.2" font-size="32" fill="#dbe8fa" letter-spacing="1.6" stroke="#dbe8fa" stroke-width="0.5">FX678</text>
</svg></body></html>
